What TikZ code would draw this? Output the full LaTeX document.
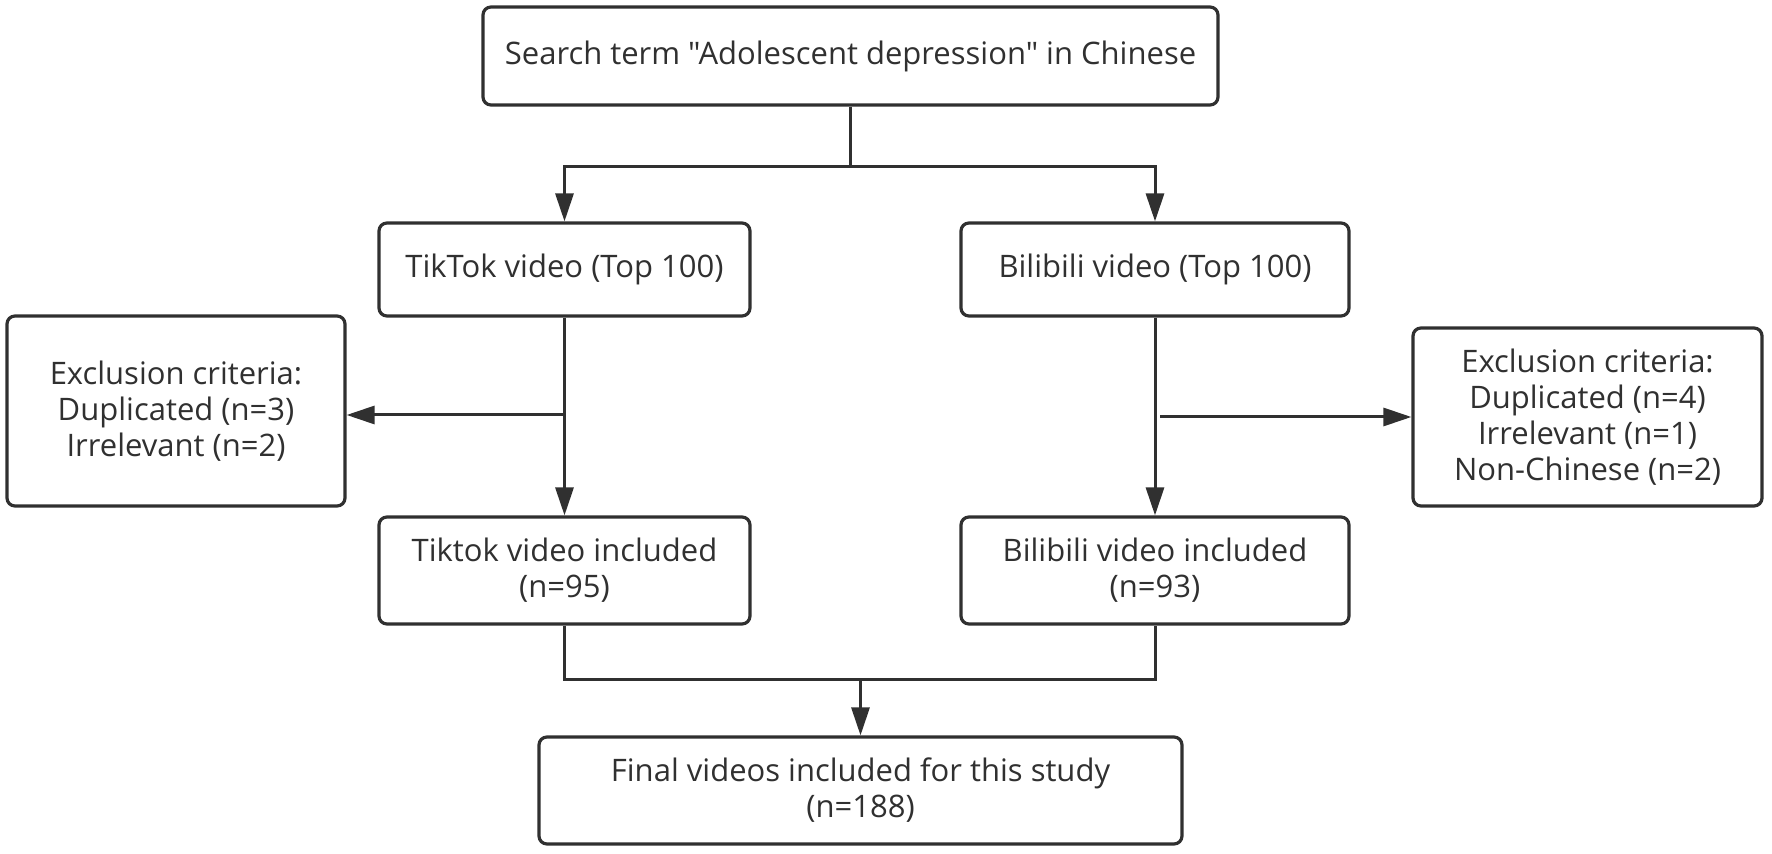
\documentclass[tikz,border=0pt]{standalone}
\usepackage{fontspec}
\setmainfont{Open Sans}[Ligatures=TeXOff]
\usetikzlibrary{arrows.meta}
\definecolor{ink}{HTML}{303030}
\begin{document}
\begin{tikzpicture}[x=0.5pt,y=-0.5pt,
  box/.style={draw=ink,line width=1.6pt,rounded corners=4pt,fill=white,
    inner sep=0pt,align=center,text=ink,
    font=\fontsize{15.5pt}{18pt}\selectfont},
  conn/.style={draw=ink,line width=1.5pt},
  arr/.style={conn,-{Triangle[length=14pt,width=9pt]}}]
\useasboundingbox (0,0) rectangle (1772,854);
\fill[white] (0,0) rectangle (1772,854);
\node[box,minimum width=367.5pt,minimum height=49pt] (top) at (850.5,56) {Search term "Adolescent depression" in Chinese};
\node[box,minimum width=185.5pt,minimum height=46.5pt] (tik) at (564.5,269.5) {TikTok video (Top 100)};
\node[box,minimum width=194pt,minimum height=46.5pt] (bil) at (1155,269.5) {Bilibili video (Top 100)};
\node[box,minimum width=169pt,minimum height=95pt] (exl) at (176,411) {Exclusion criteria:\\Duplicated (n=3)\\Irrelevant (n=2)};
\node[box,minimum width=174.5pt,minimum height=89pt] (exr) at (1587.5,417) {Exclusion criteria:\\Duplicated (n=4)\\Irrelevant (n=1)\\Non-Chinese (n=2)};
\node[box,minimum width=185.5pt,minimum height=53.5pt] (inct) at (564.5,570.5) {Tiktok video included\\(n=95)};
\node[box,minimum width=194pt,minimum height=53.5pt] (incb) at (1155,570.5) {Bilibili video included\\(n=93)};
\node[box,minimum width=321.5pt,minimum height=53.5pt] (fin) at (860.5,790.5) {Final videos included for this study\\(n=188)};
\coordinate (j1) at (850.5,167);
\coordinate (b1) at (564.5,415);
\coordinate (b2) at (1160,417);
\coordinate (j2) at (860.5,680);
\draw[conn] (top.south) -- (j1);
\draw[arr] (j1) -| (tik.north);
\draw[arr] (j1) -| (bil.north);
\draw[arr] (tik.south) -- (inct.north);
\draw[arr] (b1) -- (exl.east |- b1);
\draw[arr] (bil.south) -- (incb.north);
\draw[arr] (b2) -- (exr.west |- b2);
\draw[conn] (inct.south) |- (incb.south |- j2) -- (incb.south);
\draw[arr] (j2) -- (fin.north);
\end{tikzpicture}
\end{document}
